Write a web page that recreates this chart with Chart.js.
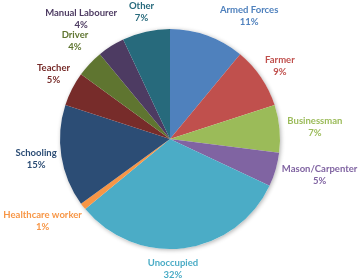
<!DOCTYPE html>
<html>
<head>
<meta charset="utf-8">
<script src="https://cdn.jsdelivr.net/npm/chart.js@4.4.1/dist/chart.umd.min.js"></script>
<style>
  html, body { margin: 0; padding: 0; background: #fff; }
  #contenedor { width: 358px; height: 279px; position: relative; }
</style>
</head>
<body>
<div id="contenedor"><canvas id="ocupacion"></canvas></div>
<script>
  const categorias = ['Armed Forces', 'Farmer', 'Businessman', 'Mason/Carpenter', 'Unoccupied',
    'Healthcare worker', 'Schooling', 'Teacher', 'Driver', 'Manual Labourer', 'Other'];
  const porcentajes = [11, 9, 7, 5, 32, 1, 15, 5, 4, 4, 7];
  const colores = [
    '#4F81BD', // azul
    '#C0504D', // rojo
    '#9BBB59', // verde
    '#8064A2', // violeta
    '#4BACC6', // celeste
    '#F79646', // naranja
    '#2C4D75', // azul oscuro
    '#772C2A', // rojo oscuro
    '#5F7530', // verde oscuro
    '#4D3B62', // violeta oscuro
    '#276A7C'  // verde azulado
  ];
  // ajuste de las etiquetas: [giro en grados, distancia extra]
  const ajusteEtiquetas = [[10, 12], [0, 0], [0, 0], [0, 0], [6, 0],
    [0, 4], [0, -3], [3, 0], [3, 6], [0, 12], [0, 0]];

  // sombra suave detras del pastel
  const sombra = {
    id: 'sombra',
    beforeDatasetsDraw(chart) {
      const arco = chart.getDatasetMeta(0).data[0];
      if (!arco) return;
      const ctx = chart.ctx;
      ctx.save();
      ctx.shadowColor = 'rgba(0,0,0,0.3)';
      ctx.shadowBlur = 4;
      ctx.shadowOffsetX = 1;
      ctx.shadowOffsetY = 1;
      ctx.fillStyle = '#fff';
      ctx.beginPath();
      ctx.arc(arco.x, arco.y, arco.outerRadius, 0, Math.PI * 2);
      ctx.fill();
      ctx.restore();
    }
  };

  // etiquetas fuera del borde, nombre y porcentaje
  const etiquetas = {
    id: 'etiquetas',
    afterDatasetsDraw(chart) {
      const ctx = chart.ctx;
      const arcos = chart.getDatasetMeta(0).data;
      ctx.save();
      ctx.font = 'bold 9.5px Lato';
      ctx.textAlign = 'center';
      ctx.textBaseline = 'middle';
      arcos.forEach((arco, i) => {
        const [giro, extra] = ajusteEtiquetas[i];
        const medio = (arco.startAngle + arco.endAngle) / 2 + giro * Math.PI / 180;
        const r = arco.outerRadius + 8 + extra;
        const px = arco.x + Math.cos(medio) * r;
        const py = arco.y + Math.sin(medio) * r;
        const nombre = categorias[i];
        const valor = porcentajes[i] + '%';
        const w = Math.max(ctx.measureText(nombre).width, ctx.measureText(valor).width);
        const cx = px + Math.cos(medio) * w / 2;
        const cy = py + Math.sin(medio) * 12;
        ctx.fillStyle = colores[i];
        ctx.fillText(nombre, cx, cy - 6);
        ctx.fillText(valor, cx, cy + 6);
      });
      ctx.restore();
    }
  };

  const ctx = document.getElementById('ocupacion').getContext('2d');
  new Chart(ctx, {
    type: 'pie',
    data: {
      labels: categorias,
      datasets: [{
        data: porcentajes,
        backgroundColor: colores,
        borderWidth: 0
      }]
    },
    options: {
      responsive: true,
      maintainAspectRatio: false,
      animation: false,
      layout: { padding: { top: 29, bottom: 30, left: 50, right: 68 } },
      plugins: {
        legend: { display: false },
        tooltip: { enabled: false }
      }
    },
    plugins: [sombra, etiquetas]
  });
</script>
</body>
</html>
